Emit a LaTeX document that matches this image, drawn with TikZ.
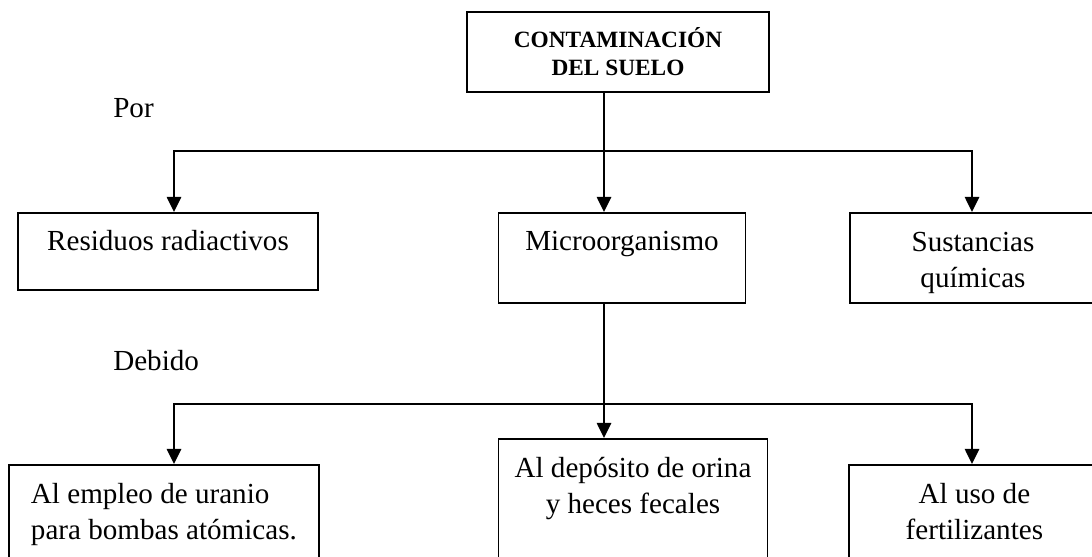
\documentclass[tikz,border=0pt]{standalone}
\usepackage{fontspec}
\setmainfont{Liberation Serif}
\usepackage{tikz}
\usetikzlibrary{arrows.meta,positioning,calc}
\newcommand{\boxfont}{\fontsize{20.7}{26.3}\selectfont}
\newcommand{\headfont}{\fontsize{16.6}{19.9}\selectfont\bfseries}
\tikzset{
  box/.style={rectangle,draw=black,line width=1.4pt,fill=white,align=center,
              font=\boxfont,inner xsep=0pt,inner ysep=0pt,text height=0.95cm,anchor=north},
  box2/.style={box,text height=1.875cm},  % two lines: height counted from the last baseline
  head/.style={rectangle,draw=black,line width=1.4pt,fill=white,align=center,
               font=\headfont,minimum width=7.55cm,minimum height=2cm,inner sep=0pt},
  fl/.style={-{Triangle[length=0.38cm,width=0.36cm]},line width=1.4pt},
  bus/.style={line width=1.4pt,line cap=rect},
  lbl/.style={font=\boxfont,inner sep=0pt,anchor=base west},
}
\begin{document}
\begin{tikzpicture}[x=1cm,y=1cm]
  \useasboundingbox (0,0) rectangle (27.3,13.9);
  \clip (0,0) rectangle (27.3,13.9);
  % ── title ──
  \node[head] (cont) at (15.45,12.6) {CONTAMINACIÓN\\DEL SUELO};
  % ── first row: causes ──
  \node[box,minimum width=7.5cm,text depth=0.975cm]  (resid) at (4.2,8.6)    {Residuos radiactivos};
  \node[box,minimum width=6.175cm,text depth=1.3cm]  (micro) at (15.55,8.6)  {Microorganismo};
  \node[box2,minimum width=6.15cm,text depth=0.375cm] (sust) at (24.325,8.6) {Sustancias\\químicas};
  % ── second row: origins (cut by the lower edge) ──
  \node[box2,anchor=north west,align=left,inner xsep=0.55cm,text depth=2cm]
        (uran) at (0.2,2.3) {Al empleo de uranio\\para bombas atómicas.};
  \node[box2,minimum width=6.725cm,text depth=2cm] (orina) at (15.825,2.95) {Al depósito de orina\\y heces fecales};
  \node[box2,minimum width=6.275cm,text depth=2cm] (fert)  at (24.36,2.3)   {Al uso de\\fertilizantes};
  % ── linking words ──
  \node[lbl] (por)    at (2.825,10.975) {Por};
  \node[lbl] (debido) at (2.825,4.65)   {Debido};
  % ── bus ends and the central spine ──
  \coordinate (busTL) at (4.35,10.125);
  \coordinate (busTR) at (24.3,10.125);
  \coordinate (busBL) at (4.35,3.8);
  \coordinate (busBR) at (24.3,3.8);
  \coordinate (spine) at (15.1,0);
  % ── edges ──
  \draw[fl] (cont.south -| spine) -- (micro.north -| spine);
  \draw[bus] (busTL) -- (busTR);
  \draw[fl] (busTL) -- (resid.north -| busTL);
  \draw[fl] (busTR) -- (sust.north -| busTR);
  \draw[fl] (micro.south -| spine) -- (orina.north -| spine);
  \draw[bus] (busBL) -- (busBR);
  \draw[fl] (busBL) -- (uran.north -| busBL);
  \draw[fl] (busBR) -- (fert.north -| busBR);
\end{tikzpicture}
\end{document}
